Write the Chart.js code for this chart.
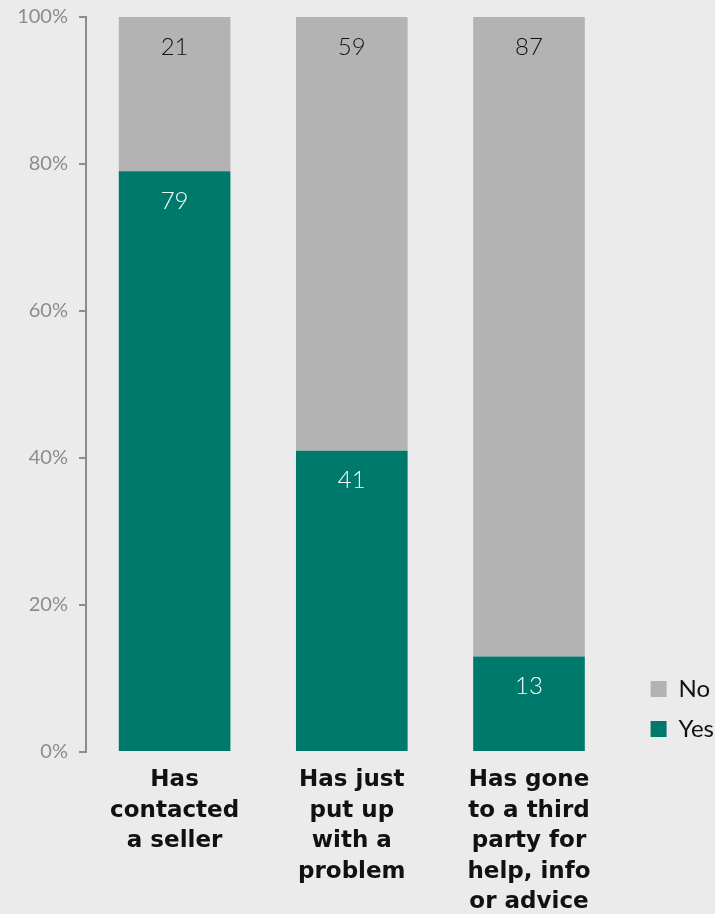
<!DOCTYPE html>
<html>
<head>
<meta charset="utf-8">
<script src="https://cdn.jsdelivr.net/npm/chart.js@4/dist/chart.umd.min.js"></script>
<style>
  html, body { margin: 0; padding: 0; background: #ebebeb; }
  #wrap { width: 715px; height: 914px; }
</style>
</head>
<body>
<div id="wrap"><canvas id="c" width="715" height="914"></canvas></div>
<script>
// Survey outcome by action taken (percent of respondents)
const categories = [
  ["Has", "contacted", "a seller"],
  ["Has just", "put up", "with a", "problem"],
  ["Has gone", "to a third", "party for", "help, info", "or advice"]
];
const yesValues = [79, 41, 13];
const noValues = [21, 59, 87];
const yTicks = [0, 20, 40, 60, 80, 100];

const TEAL = '#00796d';
const GREY = '#b3b3b3';

// Writes each segment's value near the top of its segment
const segmentLabels = {
  id: 'segmentLabels',
  afterDatasetsDraw(chart) {
    const ctx = chart.ctx;
    ctx.save();
    ctx.font = '300 24px Lato, "Open Sans", sans-serif';
    ctx.textAlign = 'center';
    ctx.textBaseline = 'middle';
    chart.data.datasets.forEach((ds, di) => {
      const meta = chart.getDatasetMeta(di);
      meta.data.forEach((bar, i) => {
        const top = Math.min(bar.y, bar.base);
        ctx.fillStyle = ds.labelColor;
        ctx.fillText(String(ds.data[i]), bar.x, top + 30);
      });
    });
    ctx.restore();
  }
};

// Nudges the legend block down so it sits just above the baseline
const legendNudge = {
  id: 'legendNudge',
  afterLayout(chart) {
    const l = chart.legend;
    if (l) { l.top += 5; l.bottom += 5; }
  }
};

new Chart(document.getElementById('c'), {
  type: 'bar',
  data: {
    labels: categories,
    datasets: [
      { label: 'Yes', data: yesValues, backgroundColor: TEAL, labelColor: '#ffffff',
        categoryPercentage: 1, barPercentage: 0.63 },
      { label: 'No', data: noValues, backgroundColor: GREY, labelColor: '#111111',
        categoryPercentage: 1, barPercentage: 0.63 }
    ]
  },
  options: {
    responsive: false,
    devicePixelRatio: 1,
    animation: false,
    layout: { autoPadding: false, padding: { top: 17, right: -9, bottom: 0, left: 0 } },
    scales: {
      x: {
        stacked: true,
        afterFit(scale) { scale.height = 162; },
        grid: { display: false, drawTicks: false, tickLength: 0 },
        border: { display: false },
        ticks: {
          color: '#111111',
          font: { family: '"DejaVu Sans", sans-serif', size: 23, weight: 'bold', lineHeight: '30.5px' },
          padding: 13,
          maxRotation: 0,
          autoSkip: false
        }
      },
      y: {
        stacked: true,
        min: 0,
        max: 100,
        afterBuildTicks(scale) { scale.ticks = yTicks.map(v => ({ value: v })); },
        afterFit(scale) {
          scale.width = 86;
          scale.paddingTop = 0;
          scale.paddingBottom = 0;
        },
        grid: { drawOnChartArea: false, color: '#8c8c8c', lineWidth: 2, tickLength: 7 },
        border: { color: '#8c8c8c', width: 2 },
        ticks: {
          color: '#8c8c8c',
          font: { family: 'Lato, "Open Sans", sans-serif', size: 20 },
          padding: 11,
          callback: v => v + '%'
        }
      },
      // empty gutter between the plot and the legend
      gutter: {
        type: 'linear',
        position: 'right',
        afterFit(scale) {
          scale.width = 17;
          scale.paddingTop = 0;
          scale.paddingBottom = 0;
        },
        grid: { display: false, drawTicks: false },
        border: { display: false },
        ticks: { display: false }
      }
    },
    plugins: {
      legend: {
        position: 'right',
        align: 'end',
        fullSize: false,
        reverse: true,
        labels: {
          boxWidth: 16,
          boxHeight: 16,
          color: '#111111',
          padding: 16,
          font: { family: 'Lato, "Open Sans", sans-serif', size: 24 }
        }
      },
      tooltip: { enabled: false }
    }
  },
  plugins: [segmentLabels, legendNudge]
});
</script>
</body>
</html>
